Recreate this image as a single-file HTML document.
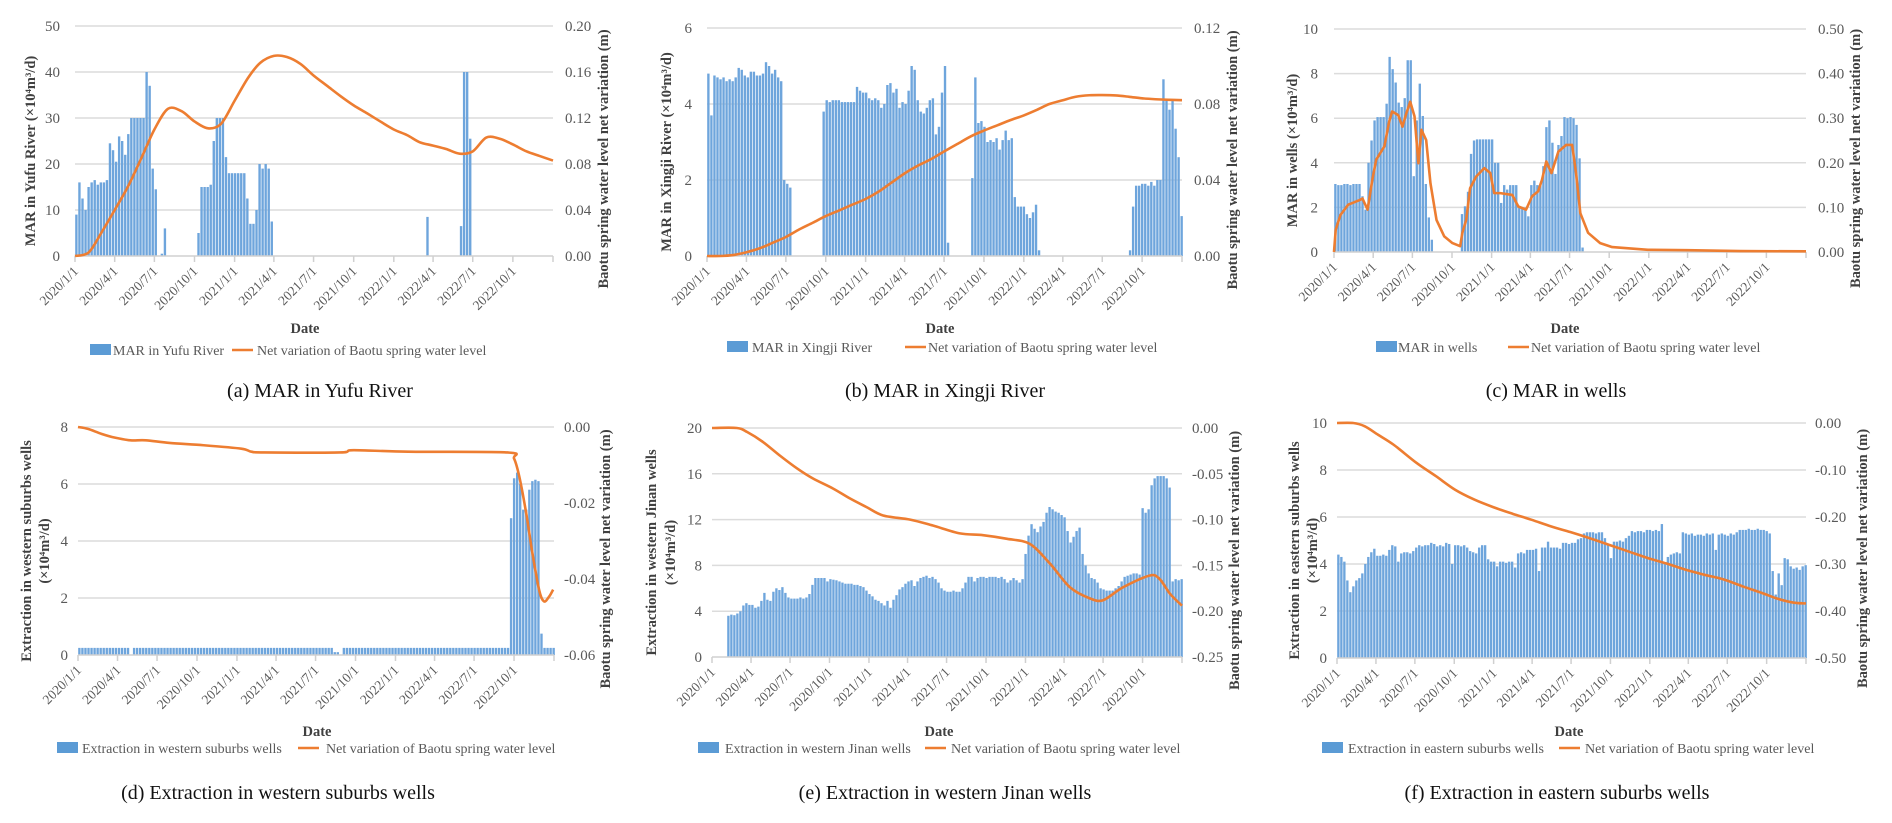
<!DOCTYPE html>
<html><head><meta charset="utf-8">
<style>
html,body{margin:0;padding:0;background:#fff;}
svg{display:block;font-family:"Liberation Serif","DejaVu Serif",serif;}
</style></head>
<body>
<svg id="fig" width="1892" height="823" viewBox="0 0 1892 823" xmlns="http://www.w3.org/2000/svg"></svg>
<script>
const tickDays=[0,91,182,274,366,456,547,639,731,821,912,1004,1096];
const tickLabels=["2020/1/1","2020/4/1","2020/7/1","2020/10/1","2021/1/1","2021/4/1","2021/7/1","2021/10/1","2022/1/1","2022/4/1","2022/7/1","2022/10/1"];
const monthDays=[0,31,60,91,121,152,182,213,244,274,305,335,366,397,425,456,486,517,547,578,609,639,670,700,731,762,790,821,851,882,912,943,974,1004,1035,1065,1096];

// (a) Yufu River weekly MAR
const barsA=[9,16,12.5,10,15,16,16.5,15.5,16,16,16.5,24.5,23,20.5,26,25,22,26.5,30,30,30,30,30,40,37,19,14.5,
0,0.5,6,0,0,0,0,0,0,0,0,0,0,
5,15,15,15,15.5,25,30,30,30,21.5,18,18,18,18,18,18,12.5,7,7,10,20,19,20,19,7.5,
0,0,0,0,0,0,0,0,0,0,0,0,0,0,0,0,0,0,0,0,0,0,0,0,0,0,0,0,0,0,0,0,0,0,0,0,0,0,0,0,0,0,0,0,0,0,0,0,0,0,
8.5,0,0,0,0,0,0,0,0,0,0,6.5,40,40,25.5,
0,0,0,0,0,0,0,0,0,0,0,0,0,0,0,0,0,0,0,0,0,0,0,0,0,0,0];
const lineA=[0,0.003,0.02,0.04,0.06,0.085,0.11,0.128,0.126,0.117,0.111,0.115,0.135,0.155,0.168,0.174,0.173,0.167,0.157,0.148,0.139,0.131,0.124,0.117,0.110,0.105,0.099,0.096,0.093,0.089,0.091,0.103,0.102,0.097,0.091,0.087,0.083];

// (b) Xingji River
const barsB=[4.8,3.7,4.75,4.7,4.65,4.7,4.6,4.65,4.6,4.7,4.95,4.9,4.75,4.7,
4.85,4.85,4.75,4.75,4.8,5.1,5.0,4.8,4.9,4.7,4.6,2.0,1.9,1.8,
0,0,0,0,0,0,0,0,0,0,
3.8,4.1,4.05,4.1,4.1,4.1,4.05,4.05,4.05,4.05,4.05,4.45,4.35,4.3,4.3,4.15,4.1,4.15,4.1,3.9,4.0,4.5,4.55,4.3,4.4,3.9,4.05,4.0,4.35,5.0,4.9,4.1,3.8,3.75,3.9,4.1,4.15,3.2,3.4,4.3,5.0,0.35,
0,0,0,0,0,0,0,
2.05,4.7,3.5,3.55,3.4,3.0,3.05,3.0,3.1,2.8,3.05,3.3,3.05,3.1,1.55,1.3,1.3,1.3,1.1,1.0,1.15,1.35,0.15,0,
0,0,0,0,0,0,0,0,0,0,0,0,0,0,0,0,0,0,0,0,0,0,0,0,0,0,0,0,
0.15,1.3,1.85,1.85,1.9,1.9,1.85,1.95,1.85,2.0,2.0,4.65,4.1,3.85,4.1,3.35,2.6,1.05];
const lineB=[0,0,0.0005,0.002,0.004,0.007,0.010,0.014,0.0175,0.021,0.024,0.027,0.030,0.034,0.0385,0.0435,0.0475,0.051,0.055,0.059,0.063,0.066,0.0688,0.0715,0.074,0.077,0.080,0.082,0.0838,0.0846,0.0847,0.0845,0.0838,0.083,0.0825,0.0822,0.082];

// (c) wells
const barsC=[3.05,3.0,3.0,3.05,3.05,3.0,3.05,3.05,3.05,
2.5,1.9,4.0,5.0,5.9,6.05,6.05,6.05,6.65,8.75,8.2,7.6,6.7,6.5,6.9,8.6,8.6,3.4,5.9,7.55,6.1,3.05,1.55,0.55,
0,0,0,0,0,0,0,0,0,
1.7,2.05,2.7,4.4,5.0,5.05,5.05,5.05,5.05,5.05,5.05,4.0,4.0,2.2,3.0,2.8,3.0,3.0,3.0,2.0,2.0,2.0,1.6,3.0,3.2,3.0,3.0,3.85,5.6,5.9,4.9,3.5,4.8,5.2,6.05,6.0,6.05,6.0,5.7,4.2,0.2,
0,0,0,0,0,0,0,0,0,0,0,0,0,0,0,0,0,0,0,0,0,0,0,0,0,0,0,0,0,0,0,0,0,0,0,0,0,0,0,0,0,0,0,0,0,0,0,0,0,0,0,0,0,0,0,0,0,0,0,0,0,0,0,0,0,0,0,0,0,0,0,0,0,0];
const lineCDays=[0,4,15,33,61,66,78,89,98,117,128,135,149,159,168,177,187,196,203,214,224,238,256,275,293,298,307,316,330,349,363,372,386,414,428,446,460,474,483,493,505,521,539,553,562,572,590,618,646,729,822,943,1096];
const lineC=[0,0.05,0.083,0.106,0.117,0.12,0.095,0.162,0.207,0.237,0.292,0.315,0.307,0.281,0.311,0.337,0.304,0.199,0.274,0.251,0.154,0.072,0.035,0.020,0.013,0.043,0.072,0.143,0.169,0.188,0.177,0.132,0.132,0.128,0.102,0.095,0.125,0.136,0.162,0.203,0.177,0.225,0.240,0.240,0.177,0.087,0.043,0.020,0.011,0.005,0.004,0.002,0.0015];

// (d) western suburbs wells
const barsD=[0.25,0.25,0.25,0.25,0.25,0.25,0.25,0.25,0.25,0.25,0.25,0.25,0.25,0.25,0.25,0.25,0.25,0,
0.25,0.25,0.25,0.25,0.25,0.25,0.25,0.25,0.25,0.25,0.25,0.25,0.25,0.25,0.25,0.25,0.25,0.25,0.25,0.25,0.25,0.25,0.25,0.25,0.25,0.25,0.25,0.25,0.25,0.25,0.25,0.25,0.25,0.25,0.25,0.25,0.25,0.25,0.25,0.25,0.25,0.25,0.25,0.25,0.25,0.25,0.25,0.25,0.25,0.25,0.25,0.25,0.25,0.25,0.25,0.25,0.25,0.25,0.25,0.25,0.25,0.25,0.25,0.25,0.25,0.25,
0.1,0.1,0,
0.25,0.25,0.25,0.25,0.25,0.25,0.25,0.25,0.25,0.25,0.25,0.25,0.25,0.25,0.25,0.25,0.25,0.25,0.25,0.25,0.25,0.25,0.25,0.25,0.25,0.25,0.25,0.25,0.25,0.25,0.25,0.25,0.25,0.25,0.25,0.25,0.25,0.25,0.25,0.25,0.25,0.25,0.25,0.25,0.25,0.25,0.25,0.25,0.25,0.25,0.25,0.25,0.25,0.25,0.25,
4.8,6.2,6.4,6.0,5.1,5.1,5.8,6.1,6.15,6.1,0.75,0.25,0.25,0.25,0.25];
const lineDDays=[0,23,54,85,121,156,211,289,376,399,430,603,634,760,989,1004,1016,1032,1046,1062,1073,1085,1094];
const lineD=[0,-0.0005,-0.0018,-0.0028,-0.0035,-0.0035,-0.0042,-0.0048,-0.0057,-0.0065,-0.0067,-0.0067,-0.0061,-0.0065,-0.0067,-0.0083,-0.013,-0.0227,-0.033,-0.043,-0.0459,-0.0446,-0.0428];

// (e) western Jinan wells
const barsE=[0,0,0,0,0,3.6,3.7,3.65,3.8,4.0,4.5,4.7,4.55,4.55,4.3,4.4,4.9,5.6,5.0,4.9,5.7,6.0,5.85,6.1,5.6,5.2,5.1,5.1,5.1,5.2,5.1,5.2,5.5,6.3,6.9,6.9,6.9,6.9,6.6,6.8,6.75,6.7,6.6,6.5,6.4,6.4,6.4,6.3,6.3,6.2,6.1,5.8,5.5,5.3,5.0,4.9,4.7,4.5,4.9,4.3,
5.0,5.4,5.9,6.1,6.4,6.6,6.7,6.2,6.6,6.9,7.0,7.1,6.9,7.0,6.8,6.5,6.0,5.8,5.7,5.7,5.8,5.7,5.7,6.0,6.5,7.0,7.0,6.6,6.9,7.0,7.0,6.9,7.0,7.0,7.0,6.9,7.0,6.8,6.5,6.7,6.9,6.7,6.5,6.8,9.0,10.6,11.6,11.2,10.9,11.4,11.8,12.6,13.1,12.9,12.7,12.6,12.4,12.2,11.0,10.0,10.5,11.0,11.3,9.0,8.0,7.3,6.9,6.8,6.5,6.0,5.9,5.8,5.8,5.8,6.0,6.2,6.6,7.0,7.1,7.2,7.3,7.3,7.2,13.0,12.6,12.9,15.0,15.6,15.8,15.8,15.8,15.6,14.8,6.6,6.8,6.7,6.8];
const lineEDays=[0,58,82,119,158,198,235,282,322,361,399,462,515,578,632,688,741,788,835,881,912,958,1021,1044,1068,1096];
const lineE=[0,0,-0.0044,-0.0153,-0.030,-0.044,-0.055,-0.066,-0.077,-0.0865,-0.0955,-0.100,-0.1065,-0.115,-0.117,-0.121,-0.1265,-0.148,-0.174,-0.186,-0.188,-0.174,-0.161,-0.165,-0.181,-0.194];

// (f) eastern suburbs wells
const barsF=[4.4,4.3,4.1,3.3,2.8,3.05,3.3,3.4,3.6,4.0,4.3,4.5,4.65,4.35,4.35,4.4,4.35,4.6,4.8,4.75,4.1,4.45,4.5,4.5,4.45,4.55,4.7,4.8,4.75,4.8,4.8,4.9,4.85,4.75,4.8,4.75,4.9,4.85,4.0,4.8,4.8,4.75,4.8,4.7,4.55,4.5,4.45,4.7,4.8,4.8,4.2,4.1,4.1,3.9,4.1,4.1,4.05,4.1,4.1,3.85,4.45,4.5,4.45,4.6,4.6,4.6,4.65,3.7,4.7,4.7,4.95,4.7,4.7,4.7,4.65,4.9,4.9,4.85,4.9,4.9,5.05,5.1,5.3,5.35,5.35,5.35,5.3,5.35,5.35,5.1,4.8,4.25,4.95,4.95,5.0,4.95,5.1,5.2,5.4,5.35,5.4,5.4,5.35,5.45,5.45,5.4,5.45,5.4,5.7,4.0,4.3,4.4,4.45,4.5,4.45,5.35,5.3,5.25,5.3,5.2,5.25,5.25,5.2,5.3,5.25,5.3,4.6,5.25,5.3,5.25,5.2,5.3,5.25,5.35,5.45,5.45,5.45,5.5,5.45,5.45,5.5,5.45,5.45,5.4,5.3,3.7,2.7,3.6,3.1,4.25,4.2,3.9,3.8,3.85,3.75,3.9,3.95];
const lineFDays=[0,38,65,96,132,186,231,276,321,365,410,455,500,545,590,635,680,725,770,814,859,904,949,994,1030,1066,1096];
const lineF=[0,0,-0.007,-0.025,-0.046,-0.085,-0.113,-0.142,-0.163,-0.179,-0.193,-0.206,-0.220,-0.232,-0.245,-0.259,-0.273,-0.287,-0.299,-0.312,-0.323,-0.333,-0.348,-0.362,-0.374,-0.382,-0.384];

const NS="http://www.w3.org/2000/svg";
const svg=document.getElementById('fig');
function mk(tag,attrs,parent){const e=document.createElementNS(NS,tag);for(const k in attrs)e.setAttribute(k,attrs[k]);(parent||svg).appendChild(e);return e;}
function txt(s,attrs,parent){const e=mk('text',attrs,parent);e.textContent=s;return e;}

function smoothPath(pts){
  let d="M"+pts[0][0].toFixed(2)+","+pts[0][1].toFixed(2);
  for(let i=0;i<pts.length-1;i++){
    const p0=pts[Math.max(0,i-1)],p1=pts[i],p2=pts[i+1],p3=pts[Math.min(pts.length-1,i+2)];
    const t=0.16;
    const c1=[p1[0]+(p2[0]-p0[0])*t,p1[1]+(p2[1]-p0[1])*t];
    const c2=[p2[0]-(p3[0]-p1[0])*t,p2[1]-(p3[1]-p1[1])*t];
    d+=" C"+c1[0].toFixed(2)+","+c1[1].toFixed(2)+" "+c2[0].toFixed(2)+","+c2[1].toFixed(2)+" "+p2[0].toFixed(2)+","+p2[1].toFixed(2);
  }
  return d;
}

function panel(c,bars,lDays,lVals){
  const g=mk('g',{});
  
  
  const X=d=>c.L+d/1096*(c.R-c.L);
  const YL=v=>c.B-(v-c.lmin)/(c.lmax-c.lmin)*(c.B-c.T);
  const YR=v=>c.B-(v-c.rmin)/(c.rmax-c.rmin)*(c.B-c.T);
  const nT=Math.round((c.lmax-c.lmin)/c.lstep);
  for(let i=0;i<=nT;i++){
    const v=c.lmin+i*c.lstep,y=YL(v);
    if(i>0){const gl=mk('line',{x1:c.L,x2:c.R,y1:y,y2:y,stroke:'#dcdcdc','stroke-width':1.5},g);
      
      }
    const t=txt(String(+v.toFixed(2)),{x:c.lEnd,y:y+5,'text-anchor':'end','font-size':15,fill:'#595959'},g);
    
    
  }
  const nR=Math.round((c.rmax-c.rmin)/c.rstep);
  for(let i=0;i<=nR;i++){
    const rv=c.rmin+i*c.rstep,y=YR(rv);
    const rt=txt((Math.abs(rv)<1e-9?0:rv).toFixed(2),{x:c.rStart,y:y+5,'font-size':15,fill:'#595959'},g);
    
    
  }
  const wk=(c.R-c.L)*7/1096;
  bars.forEach((v,i)=>{
    if(v<=0)return;
    const y=YL(v);
    const r=mk('rect',{x:(X(7*i)+0.2).toFixed(2),y:y.toFixed(2),width:(wk*0.78).toFixed(2),height:(c.B-y).toFixed(2),fill:'#6ea5dc'},g);
    
    
  });
  const ax=mk('line',{x1:c.L,x2:c.R,y1:c.B,y2:c.B,stroke:'#d0d0d0','stroke-width':1.5},g);
  
  
  tickDays.forEach((d,i)=>{
    const x=X(d);
    mk('line',{x1:x,x2:x,y1:c.B,y2:c.B+6,stroke:'#d0d0d0','stroke-width':1.5},g);
    if(i<tickLabels.length){
      const t=txt(tickLabels[i],{x:x+4,y:c.B+16,'text-anchor':'end','font-size':13.5,fill:'#595959',transform:'rotate(-45 '+(x+4)+' '+(c.B+16)+')'},g);
      
      
    }
  });
  const pts=lDays.map((d,i)=>[X(d),YR(lVals[i])]);
  const p=mk('path',{d:c.smooth?smoothPath(pts):"M"+pts.map(q=>q[0].toFixed(2)+","+q[1].toFixed(2)).join(" L"),fill:'none',stroke:'#ed7d31','stroke-width':2.6,'stroke-linejoin':'round'},g);
  
  
  const my=(c.T+c.B)/2;
  c.lTitle.forEach((s,i)=>{
    const x=c.lTx[i],y=my+10;
    const t=txt(s,{x:x,y:y,'text-anchor':'middle','font-size':14.5,'font-weight':'bold',fill:'#404040',transform:'rotate(-90 '+x+' '+y+')'},g);
    
    
  });
  const ry=my+18;
  const rt=txt('Baotu spring water level net variation (m)',{x:c.rTx,y:ry,'text-anchor':'middle','font-size':14.5,'font-weight':'bold',fill:'#404040',transform:'rotate(-90 '+c.rTx+' '+ry+')'},g);
  
  
  const dt=txt('Date',{x:c.dateX,y:c.dateY,'text-anchor':'middle','font-size':14.5,'font-weight':'bold',fill:'#404040'},g);
  
  
  const sw=mk('rect',{x:c.sw,y:c.legY-6,width:21,height:11,fill:'#5b9bd5'},g);
  
  
  const l1=txt(c.barLabel,{x:c.swText,y:c.legY+5,'font-size':14,fill:'#595959'},g);
  
  
  const ll=mk('line',{x1:c.ln,x2:c.ln+21,y1:c.legY,y2:c.legY,stroke:'#ed7d31','stroke-width':2.6},g);
  
  
  const l2=txt('Net variation of Baotu spring water level',{x:c.lnText,y:c.legY+5,'font-size':14,fill:'#595959'},g);
  
  
  const cap=txt(c.caption,{x:c.capX,y:c.capY+7,'text-anchor':'middle','font-size':20,fill:'#111'},g);
  
  
}

const U="(×10⁴m³/d)";
panel({id:'a',L:75,R:553,T:26,B:256,lmin:0,lmax:50,lstep:10,rmin:0,rmax:0.2,rstep:0.04,lEnd:60,rStart:565,
  lTitle:["MAR in Yufu River "+U],lTx:[35],rTx:608,dateX:305,dateY:333,legY:350,sw:90,swText:113,ln:232,lnText:257,
  barLabel:"MAR in Yufu River",capX:320,capY:390,caption:"(a) MAR in Yufu River",smooth:true},barsA,monthDays,lineA);
panel({id:'b',L:707,R:1182,T:28,B:256,lmin:0,lmax:6,lstep:2,rmin:0,rmax:0.12,rstep:0.04,lEnd:692,rStart:1194,
  lTitle:["MAR in Xingji River "+U],lTx:[671],rTx:1237,dateX:940,dateY:333,legY:347,sw:727,swText:752,ln:905,lnText:928,
  barLabel:"MAR in Xingji River",capX:945,capY:390,caption:"(b) MAR in Xingji River",smooth:true},barsB,monthDays,lineB);
panel({id:'c',L:1334,R:1806,T:29,B:252,lmin:0,lmax:10,lstep:2,rmin:0,rmax:0.5,rstep:0.1,lEnd:1318,rStart:1818,
  lTitle:["MAR in wells "+U],lTx:[1297],rTx:1860,dateX:1565,dateY:333,legY:347,sw:1376,swText:1398,ln:1508,lnText:1531,
  barLabel:"MAR in wells",capX:1556,capY:390,caption:"(c) MAR in wells",smooth:false},barsC,lineCDays,lineC);
panel({id:'d',L:78,R:554,T:427,B:655,lmin:0,lmax:8,lstep:2,rmin:-0.06,rmax:0,rstep:0.02,lEnd:68,rStart:564,
  lTitle:["Extraction in western suburbs wells",U],lTx:[31,49],rTx:610,dateX:317,dateY:736,legY:748,sw:57,swText:82,ln:298,lnText:326,
  barLabel:"Extraction in western suburbs wells",capX:278,capY:792,caption:"(d) Extraction in western suburbs wells",smooth:true},barsD,lineDDays,lineD);
panel({id:'e',L:712,R:1182,T:428,B:657,lmin:0,lmax:20,lstep:4,rmin:-0.25,rmax:0,rstep:0.05,lEnd:702,rStart:1192,
  lTitle:["Extraction in western Jinan wells",U],lTx:[656,675],rTx:1239,dateX:939,dateY:736,legY:748,sw:698,swText:725,ln:925,lnText:951,
  barLabel:"Extraction in western Jinan wells",capX:945,capY:792,caption:"(e) Extraction in western Jinan wells",smooth:true},barsE,lineEDays,lineE);
panel({id:'f',L:1337,R:1806,T:423,B:658,lmin:0,lmax:10,lstep:2,rmin:-0.5,rmax:0,rstep:0.1,lEnd:1327,rStart:1815,
  lTitle:["Extraction in eastern suburbs wells",U],lTx:[1299,1317],rTx:1867,dateX:1569,dateY:736,legY:748,sw:1322,swText:1348,ln:1559,lnText:1585,
  barLabel:"Extraction in eastern suburbs wells",capX:1557,capY:792,caption:"(f) Extraction in eastern suburbs wells",smooth:true},barsF,lineFDays,lineF);
</script>
</body></html>
